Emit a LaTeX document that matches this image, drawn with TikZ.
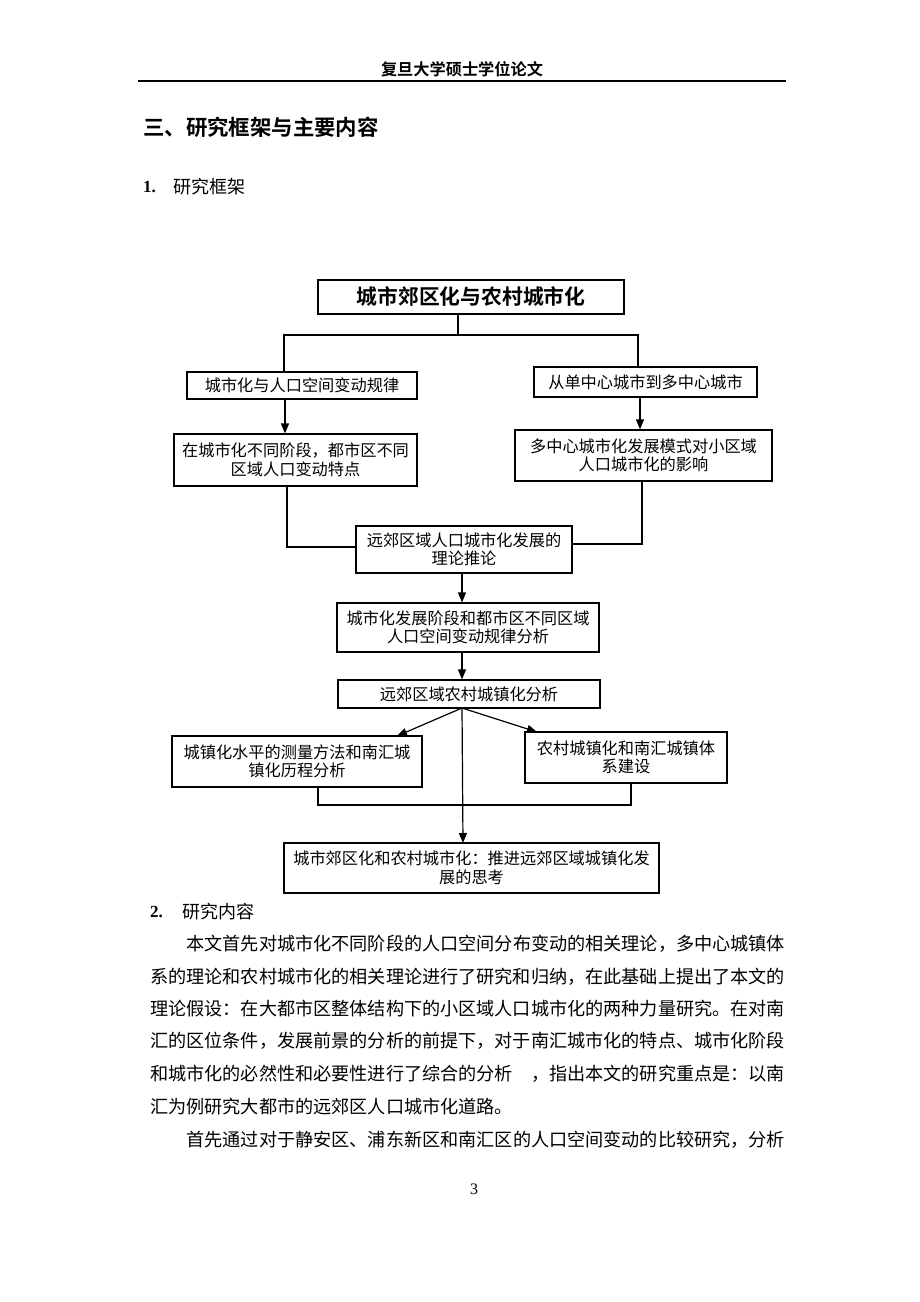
\documentclass[tikz,border=0pt]{standalone}
\usepackage{fontspec}
\setmainfont{Liberation Serif}
\newfontfamily\cjk{Noto Sans CJK SC}
\newfontfamily\cjkbold{Noto Sans CJK SC Bold}
\usetikzlibrary{arrows.meta}
\begin{document}
\begin{tikzpicture}[x=1pt,y=-1pt,
  box/.style={draw,line width=1.2pt,inner sep=0pt,align=center,
    font=\cjk\fontsize{16.2}{18.5}\selectfont},
  link/.style={line width=1.2pt},
  arr/.style={line width=1.2pt,-{Triangle[length=10pt,width=8pt]}},
  body/.style={anchor=west,inner sep=0pt,font=\cjk\fontsize{18.14}{18.14}\selectfont},
  head/.style={anchor=west,inner sep=0pt}]
\useasboundingbox (0,0) rectangle (920,1302);
\fill[white] (0,0) rectangle (920,1302);

% page header
\node[inner sep=0pt,font=\cjkbold\fontsize{16.2}{16.2}\selectfont] (hdr) at (462,69) {复旦大学硕士学位论文};
\coordinate (hl) at (138,81);
\coordinate (hr) at (786,81);
\draw[line width=1.4pt] (hl) -- (hr);

% headings
\node[head,font=\cjkbold\fontsize{21.4}{21.4}\selectfont] (h3) at (143,127) {三、研究框架与主要内容};
\node[head,font=\bfseries\fontsize{17}{17}\selectfont] (n1) at (143,187) {1.};
\node[head,font=\cjk\fontsize{18}{18}\selectfont] (t1) at (173,187) {研究框架};

% flowchart boxes
\node[box,minimum width=306pt,minimum height=34pt,font=\cjkbold\fontsize{20.8}{22}\selectfont] (top) at (471,297) {城市郊区化与农村城市化};
\node[box,minimum width=230pt,minimum height=27pt] (L1) at (302,385.5) {城市化与人口空间变动规律};
\node[box,minimum width=223pt,minimum height=30pt] (R1) at (645.5,382) {从单中心城市到多中心城市};
\node[box,minimum width=243pt,minimum height=52pt] (L2) at (295.5,460) {在城市化不同阶段，都市区不同\\区域人口变动特点};
\node[box,minimum width=257pt,minimum height=51pt] (R2) at (643.5,455.5) {多中心城市化发展模式对小区域\\人口城市化的影响};
\node[box,minimum width=216pt,minimum height=47pt] (M5) at (464,549.5) {远郊区域人口城市化发展的\\理论推论};
\node[box,minimum width=262pt,minimum height=49pt] (M6) at (468,627.5) {城市化发展阶段和都市区不同区域\\人口空间变动规律分析};
\node[box,minimum width=262pt,minimum height=28pt] (M7) at (469,694) {远郊区域农村城镇化分析};
\node[box,minimum width=250pt,minimum height=51pt] (L8) at (297,761.5) {城镇化水平的测量方法和南汇城\\镇化历程分析};
\node[box,minimum width=202pt,minimum height=51pt] (R9) at (626,757.5) {农村城镇化和南汇城镇体\\系建设};
\node[box,minimum width=375pt,minimum height=50pt] (M10) at (471.5,868) {城市郊区化和农村城市化：推进远郊区域城镇化发\\展的思考};

% connectors
\coordinate (sp) at (458,335);
\coordinate (jl) at (284,335);
\coordinate (jr) at (638,335);
\draw[link] (sp |- top.south) -- (sp);
\draw[link] (jl |- L1.north) -- (jl) -- (jr) -- (jr |- R1.north);

\coordinate (xl) at (285,0);
\coordinate (xr) at (640,0);
\draw[arr] (xl |- L1.south) -- (xl |- L2.north);
\draw[arr] (xr |- R1.south) -- (xr |- R2.north);

\coordinate (ml) at (287,547);
\coordinate (mr) at (642,544);
\draw[link] (ml |- L2.south) -- (ml) -- (ml -| M5.west);
\draw[link] (mr |- R2.south) -- (mr) -- (mr -| M5.east);

\coordinate (xc) at (462,0);
\draw[arr] (xc |- M5.south) -- (xc |- M6.north);
\draw[arr] (xc |- M6.south) -- (xc |- M7.north);

\coordinate (fan) at (462,708);
\coordinate (tl) at (397,736);
\coordinate (tr) at (537,732);
\coordinate (tm) at (463,843);
\draw[arr] (fan) -- (tl);
\draw[arr] (fan) -- (tr);
\draw[arr] (fan) -- (tm);

\coordinate (bl) at (318,805);
\coordinate (br) at (631,805);
\draw[link] (bl |- L8.south) -- (bl) -- (br) -- (br |- R9.south);

% body text
\node[head,font=\bfseries\fontsize{17}{17}\selectfont] (n2) at (150,912) {2.};
\node[head,font=\cjk\fontsize{18}{18}\selectfont] (t2) at (182,912) {研究内容};
\node[body] (p1) at (186.3,944) {本文首先对城市化不同阶段的人口空间分布变动的相关理论，多中心城镇体};
\node[body] (p2) at (150,977) {系的理论和农村城市化的相关理论进行了研究和归纳，在此基础上提出了本文的};
\node[body] (p3) at (150,1009) {理论假设：在大都市区整体结构下的小区域人口城市化的两种力量研究。在对南};
\node[body] (p4) at (150,1041) {汇的区位条件，发展前景的分析的前提下，对于南汇城市化的特点、城市化阶段};
\node[body] (p5) at (150,1074) {和城市化的必然性和必要性进行了综合的分析\hspace{18.14pt}，指出本文的研究重点是：以南};
\node[body] (p6) at (150,1107) {汇为例研究大都市的远郊区人口城市化道路。};
\node[body] (p7) at (186.3,1140) {首先通过对于静安区、浦东新区和南汇区的人口空间变动的比较研究，分析};

% page number
\node[inner sep=0pt,font=\fontsize{16}{16}\selectfont] (pg) at (474,1189) {3};
\end{tikzpicture}
\end{document}
